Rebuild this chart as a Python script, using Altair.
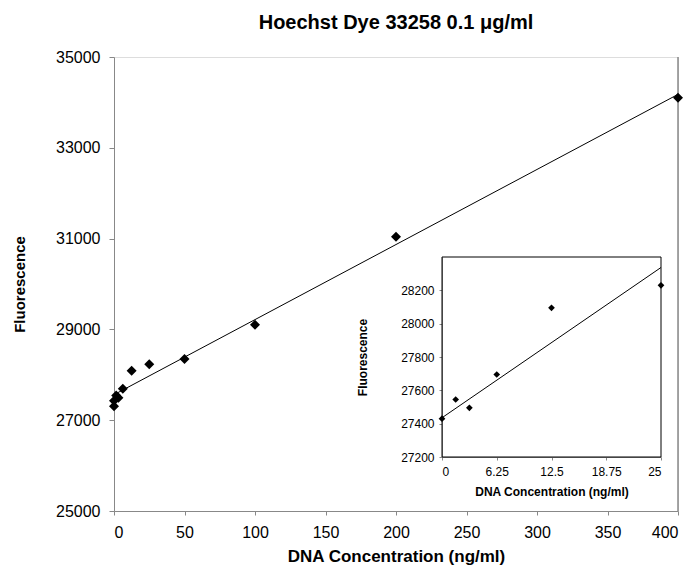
import altair as alt
import pandas as pd

# ---- data ----
main_conc = [0, 0, 1.5625, 3.125, 6.25, 12.5, 25, 50, 100, 200, 400]
main_fluor = [27430, 27310, 27545, 27495, 27695, 28090, 28230, 28350, 29100, 31040, 34100]

inset_conc = [0, 1.5625, 3.125, 6.25, 12.5, 25]
inset_fluor = [27430, 27545, 27495, 27695, 28095, 28230]

main_x_ticks = [0, 50, 100, 150, 200, 250, 300, 350, 400]
main_y_ticks = [25000, 27000, 29000, 31000, 33000, 35000]
inset_x_ticks = [0, 6.25, 12.5, 18.75, 25]
inset_y_ticks = [27200, 27400, 27600, 27800, 28000, 28200]
inset_x_domain = [0, 25]
inset_y_domain = [27200, 28400]

FONT = "Liberation Sans"
W, H = 564, 454

main_df = pd.DataFrame({"conc": main_conc, "fluor": main_fluor})
inset_df = pd.DataFrame({"conc": inset_conc, "fluor": inset_fluor})
border_df = pd.DataFrame({"conc": [main_x_ticks[-1]], "lo": [main_y_ticks[0]], "hi": [main_y_ticks[-1]]})
frame_df = pd.DataFrame({"x0": [inset_x_domain[0]], "x1": [inset_x_domain[1]],
                         "y0": [inset_y_domain[0]], "y1": [inset_y_domain[1]]})

# ---- main axes ----
ax_mx = alt.Axis(values=main_x_ticks, format="d", grid=False, labelFontSize=16, tickSize=4, labelPadding=9,
                 title="DNA Concentration (ng/ml)", titleFontSize=17, titleFontWeight="bold",
                 titleX=W / 2, titleY=45, titleBaseline="middle", titleAlign="center")
ax_my = alt.Axis(values=main_y_ticks, format="d", grid=False, labelFontSize=16, tickSize=5, labelPadding=9,
                 title="Fluorescence", titleFontSize=15, titleFontWeight="bold",
                 titleX=-95, titleY=227, titleBaseline="middle", titleAlign="center", titleAngle=270)
sx = alt.Scale(domain=[main_x_ticks[0], main_x_ticks[-1]], nice=False)
sy = alt.Scale(domain=[main_y_ticks[0], main_y_ticks[-1]], nice=False, zero=False)

m_points = alt.Chart(main_df).mark_point(shape="diamond", filled=True, size=100, color="black", opacity=1).encode(
    x=alt.X("conc:Q", scale=sx, axis=ax_mx), y=alt.Y("fluor:Q", scale=sy, axis=ax_my))
m_line = alt.Chart(main_df).transform_regression("conc", "fluor", extent=[0, 400]).mark_line(
    color="black", strokeWidth=1).encode(
    x=alt.X("conc:Q", scale=sx, axis=ax_mx), y=alt.Y("fluor:Q", scale=sy, axis=ax_my))
m_border = alt.Chart(border_df).mark_rule(color="#888888", strokeWidth=1.5).encode(
    x=alt.X("conc:Q", scale=sx, axis=ax_mx), y=alt.Y("lo:Q", scale=sy, axis=ax_my), y2="hi:Q")
main = alt.layer(m_border, m_line, m_points)

# ---- inset axes (own scales, placed by pixel range) ----
ix0, ix1 = 328, 547
iy_top, iy_bot = 200, 400
ax_ix = alt.Axis(values=inset_x_ticks, format=".2~f", grid=False, orient="bottom", offset=iy_bot - H,
                 labelFontSize=12, tickSize=3, labelPadding=6,
                 title="DNA Concentration (ng/ml)", titleFontSize=12, titleFontWeight="bold",
                 titleX=(ix0 + ix1) / 2, titleY=34, titleBaseline="middle", titleAlign="center")
ax_iy = alt.Axis(values=inset_y_ticks, format="d", grid=False, orient="left", offset=-ix0,
                 labelFontSize=12, tickSize=3, labelPadding=5,
                 title="Fluorescence", titleFontSize=12, titleFontWeight="bold",
                 titleX=-80, titleY=300, titleBaseline="middle", titleAlign="center", titleAngle=270)
isx = alt.Scale(domain=inset_x_domain, range=[ix0, ix1], nice=False)
isy = alt.Scale(domain=inset_y_domain, range=[iy_bot, iy_top], nice=False, zero=False)

i_frame = alt.Chart(frame_df).mark_rect(fill="transparent", stroke="black", strokeWidth=1).encode(
    x=alt.X("x0:Q", scale=isx, axis=ax_ix), x2="x1:Q",
    y=alt.Y("y0:Q", scale=isy, axis=ax_iy), y2="y1:Q")
i_line = alt.Chart(main_df).transform_filter(alt.datum.conc <= 25).transform_regression(
    "conc", "fluor", extent=inset_x_domain).mark_line(color="black", strokeWidth=1).encode(
    x=alt.X("conc:Q", scale=isx, axis=ax_ix), y=alt.Y("fluor:Q", scale=isy, axis=ax_iy))
i_points = alt.Chart(inset_df).mark_point(shape="diamond", filled=True, size=45, color="black", opacity=1).encode(
    x=alt.X("conc:Q", scale=isx, axis=ax_ix), y=alt.Y("fluor:Q", scale=isy, axis=ax_iy))
inset = alt.layer(i_frame, i_line, i_points)

chart = alt.layer(main, inset).resolve_scale(x="independent", y="independent").properties(
    width=W, height=H,
    title=alt.Title("Hoechst Dye 33258 0.1 μg/ml", font=FONT, fontSize=20, fontWeight="bold",
                    anchor="middle", frame="group", offset=16, color="black"),
    autosize="none",
    padding={"left": 106, "top": 49, "right": 8, "bottom": 56},
).configure_view(strokeWidth=0).configure_axis(
    grid=False, domainColor="black", tickColor="black", labelColor="black", titleColor="black",
    labelFont=FONT, titleFont=FONT, domainWidth=1, tickWidth=1,
).configure(background="white")

chart.save("out.html", embed_options={"renderer": "svg", "actions": False})
